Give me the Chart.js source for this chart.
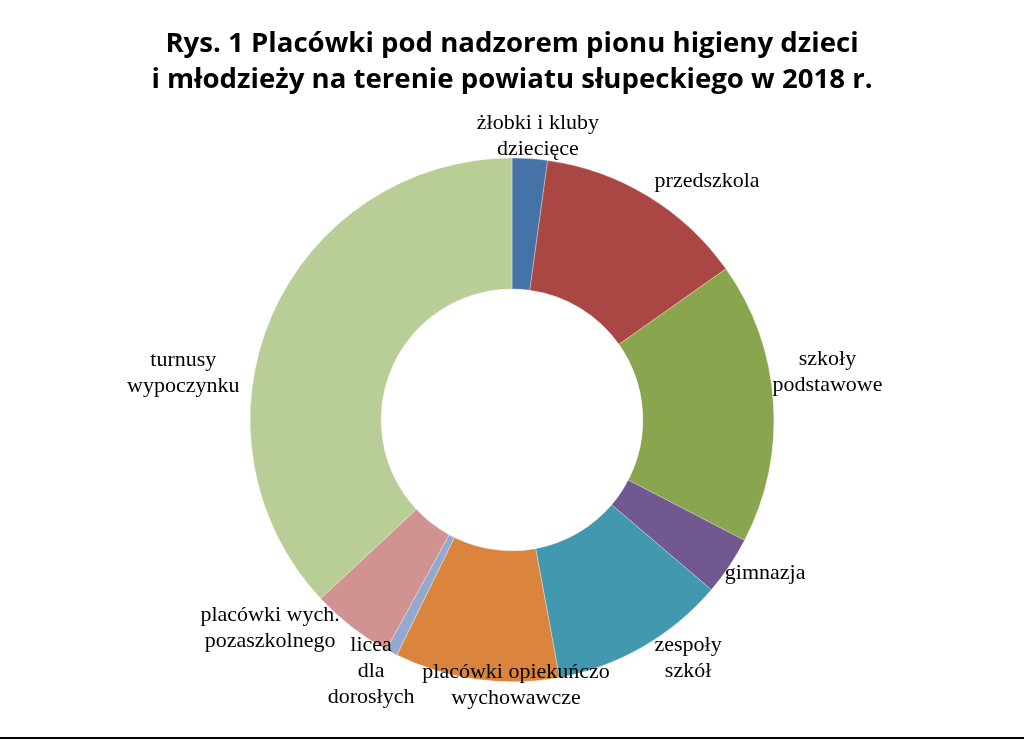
<!DOCTYPE html>
<html>
<head>
<meta charset="utf-8">
<script src="https://cdn.jsdelivr.net/npm/chart.js@4"></script>
<style>
  html, body { margin: 0; padding: 0; background: #fff; }
  #wrap { width: 1024px; height: 737px; position: relative; }
  #line { width: 1024px; height: 2px; background: #000; }
</style>
</head>
<body>
<div id="wrap"><canvas id="chart"></canvas></div>
<div id="line"></div>
<script>
// categories and counts
const categories = [
  ['żłobki i kluby', 'dziecięce'],
  ['przedszkola'],
  ['szkoły', 'podstawowe'],
  ['gimnazja'],
  ['zespoły', 'szkół'],
  ['placówki opiekuńczo', 'wychowawcze'],
  ['licea', 'dla', 'dorosłych'],
  ['placówki wych.', 'pozaszkolnego'],
  ['turnusy', 'wypoczynku']
];
const counts = [3, 18, 24, 5, 15, 14, 1, 7, 51];
const colors = ['#4572A7', '#AA4643', '#89A54E', '#71588F', '#4198AF', '#DB843D', '#93A9CF', '#D19392', '#B9CD96'];

// label placement: angle shift from slice middle (deg) and distance from centre (px)
const labelPlace = [
  [1.3, 285], [8, 308], [-4.6, 319], [-2.7, 296], [-6.5, 296], [-8.7, 265], [1.9, 288], [11.5, 319], [-15.4, 332]
];

const outsideLabels = {
  id: 'outsideLabels',
  afterDatasetsDraw(chart) {
    const c = chart.ctx;
    const arcs = chart.getDatasetMeta(0).data;
    c.save();
    c.font = '22px "Liberation Serif", "Times New Roman", serif';
    c.fillStyle = '#000';
    c.textAlign = 'center';
    c.textBaseline = 'middle';
    arcs.forEach((arc, i) => {
      const p = arc.getProps(['x', 'y', 'startAngle', 'endAngle'], true);
      const mid = (p.startAngle + p.endAngle) / 2 + labelPlace[i][0] * Math.PI / 180;
      const r = labelPlace[i][1];
      const x = p.x + Math.cos(mid) * r;
      const y = p.y + Math.sin(mid) * r;
      const lines = categories[i];
      const lh = 26;
      lines.forEach((t, k) => {
        c.fillText(t, x, y + (k - (lines.length - 1) / 2) * lh);
      });
    });
    c.restore();
  }
};

new Chart(document.getElementById('chart'), {
  type: 'doughnut',
  data: {
    labels: categories.map(l => l.join(' ')),
    datasets: [{
      data: counts,
      backgroundColor: colors,
      borderColor: 'rgba(255,255,255,0.6)',
      borderWidth: 0.5
    }]
  },
  options: {
    responsive: true,
    maintainAspectRatio: false,
    animation: false,
    cutout: '50%',
    layout: { padding: { top: 0, bottom: 55 } },
    plugins: {
      legend: { display: false },
      tooltip: { enabled: false },
      title: {
        display: true,
        text: ['Rys. 1 Placówki pod nadzorem pionu higieny dzieci', 'i młodzieży na terenie powiatu słupeckiego w 2018 r.'],
        color: '#000',
        font: { family: '"Open Sans", sans-serif', size: 27.6, weight: 'bold', lineHeight: 1.3 },
        padding: { top: 26, bottom: 60 }
      }
    }
  },
  plugins: [outsideLabels]
});
</script>
</body>
</html>
